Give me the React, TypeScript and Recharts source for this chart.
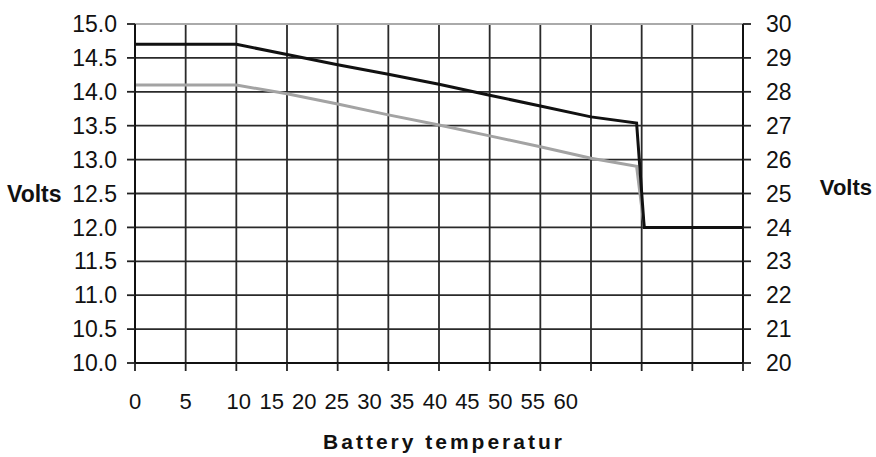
import React from 'react';
import { LineChart, Line, XAxis, YAxis, CartesianGrid, ReferenceLine, Label } from 'recharts';

// x positions in grid units (one vertical grid line per unit)
const xPos = [0, 1, 2, 3, 4, 5, 6, 7, 8, 9, 9.9, 10.05, 11, 12];
const highVolts = [14.7, 14.7, 14.7, 14.55, 14.4, 14.26, 14.11, 13.95, 13.79, 13.63, 13.54, 12.0, 12.0, 12.0];
const lowVolts = [14.1, 14.1, 14.1, 13.97, 13.82, 13.66, 13.51, 13.35, 13.19, 13.02, 12.9, 12.0, 12.0, 12.0];
// same charge curve read on the 24 V scale (right axis)
const highVolts24 = [29.4, 29.4, 29.4, 29.1, 28.8, 28.52, 28.22, 27.9, 27.58, 27.26, 27.08, 24.0, 24.0, 24.0];

const gridTicks = [0, 1, 2, 3, 4, 5, 6, 7, 8, 9, 10, 11, 12];
const tempLabels = ['0', '5', '10', '15', '20', '25', '30', '35', '40', '45', '50', '55', '60'];
const tempLabelPos = [0, 1, 2.05, 2.7, 3.34, 3.98, 4.63, 5.27, 5.92, 6.56, 7.21, 7.85, 8.5];
const leftTicks = [10, 10.5, 11, 11.5, 12, 12.5, 13, 13.5, 14, 14.5, 15];
const rightTicks = [20, 21, 22, 23, 24, 25, 26, 27, 28, 29, 30];

const data = xPos.map((x, i) => ({ x, high: highVolts[i], low: lowVolts[i], high24: highVolts24[i] }));

const FONT = '"Liberation Sans", Arial, sans-serif';
const tickStyle = { fontFamily: FONT, fontSize: 23, fill: '#111' };
const xTickStyle = { fontFamily: FONT, fontSize: 22, fill: '#111' };

export default function App() {
  return (
    <div style={{ position: 'absolute', left: 0, top: 0, width: 876, height: 457, background: '#fff' }}>
      <LineChart width={876} height={457} data={data} margin={{ top: 24, right: 0, bottom: 0, left: 0 }}>
        <CartesianGrid xAxisId="grid" yAxisId="left" stroke="#2a2a2a" strokeWidth={1.8} />
        <XAxis
          xAxisId="grid"
          dataKey="x"
          type="number"
          domain={[0, 12]}
          allowDataOverflow
          ticks={gridTicks}
          interval={0}
          height={12}
          tickSize={8}
          tickFormatter={() => ''}
          axisLine={{ stroke: '#111', strokeWidth: 2 }}
          tickLine={{ stroke: '#222', strokeWidth: 1.8 }}
        />
        <XAxis
          xAxisId="labels"
          dataKey="x"
          type="number"
          domain={[0, 12]}
          allowDataOverflow
          ticks={tempLabelPos}
          interval={0}
          height={82}
          tickSize={0}
          tickMargin={18}
          axisLine={false}
          tickLine={false}
          tick={xTickStyle}
          tickFormatter={(_v: number, i: number) => tempLabels[i]}
        >
          <Label
            value="Battery temperatur"
            position="insideBottom"
            offset={8}
            dx={5}
            style={{ fontFamily: FONT, fontSize: 21, fontWeight: 'bold', fill: '#111', letterSpacing: 3 }}
          />
        </XAxis>
        <YAxis
          yAxisId="left"
          orientation="left"
          type="number"
          domain={[10, 15]}
          allowDataOverflow
          ticks={leftTicks}
          interval={0}
          width={135}
          tickSize={8}
          tickMargin={10}
          tick={tickStyle}
          tickFormatter={(v: number) => v.toFixed(1)}
          axisLine={{ stroke: '#111', strokeWidth: 2 }}
          tickLine={{ stroke: '#222', strokeWidth: 1.8 }}
        >
          <Label
            value="Volts"
            position="insideLeft"
            offset={7}
            style={{ fontFamily: FONT, fontSize: 23, fontWeight: 'bold', fill: '#111' }}
          />
        </YAxis>
        <YAxis
          yAxisId="right"
          orientation="right"
          type="number"
          domain={[20, 30]}
          allowDataOverflow
          ticks={rightTicks}
          interval={0}
          width={133}
          tickSize={8}
          tickMargin={15}
          tick={tickStyle}
          axisLine={{ stroke: '#111', strokeWidth: 2 }}
          tickLine={{ stroke: '#222', strokeWidth: 1.8 }}
        >
          <Label
            value="Volts"
            position="insideRight"
            offset={4}
            dy={-6}
            style={{ fontFamily: FONT, fontSize: 22, fontWeight: 'bold', fill: '#111' }}
          />
        </YAxis>
        <ReferenceLine xAxisId="grid" yAxisId="left" y={15} stroke="#aaa" strokeWidth={1.8} />
        <Line
          xAxisId="labels"
          yAxisId="right"
          type="linear"
          dataKey="high24"
          stroke="none"
          strokeWidth={0}
          dot={false}
          activeDot={false}
          isAnimationActive={false}
        />
        <Line
          xAxisId="grid"
          yAxisId="left"
          type="linear"
          dataKey="low"
          stroke="#a3a3a3"
          strokeWidth={3}
          dot={false}
          isAnimationActive={false}
        />
        <Line
          xAxisId="grid"
          yAxisId="left"
          type="linear"
          dataKey="high"
          stroke="#111"
          strokeWidth={3}
          dot={false}
          isAnimationActive={false}
        />
      </LineChart>
    </div>
  );
}
